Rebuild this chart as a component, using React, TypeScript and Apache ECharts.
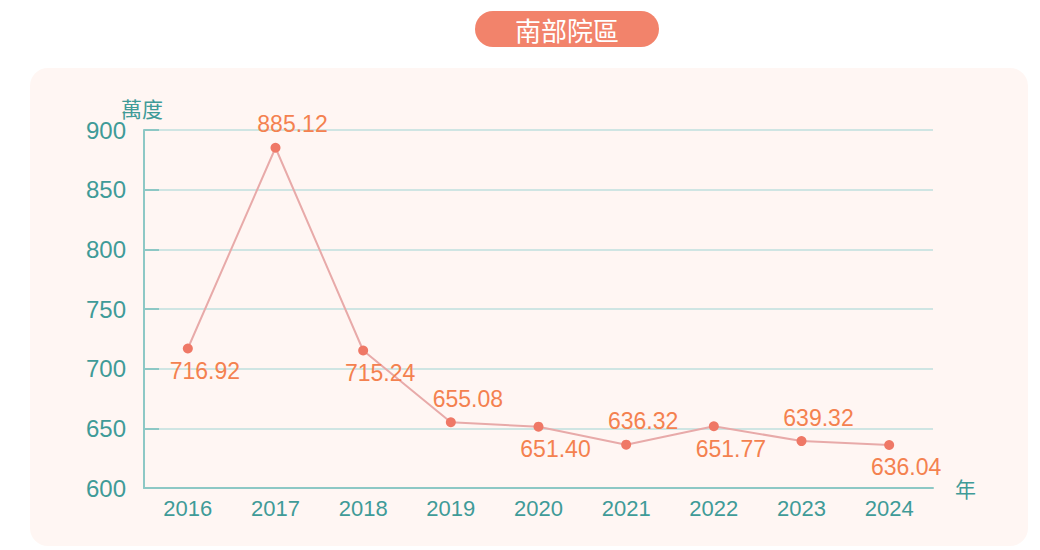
import React, { useEffect, useRef } from "react";
import * as echarts from "echarts";

const years = ["2016", "2017", "2018", "2019", "2020", "2021", "2022", "2023", "2024"];
const usage = [716.92, 885.12, 715.24, 655.08, 651.4, 636.32, 651.77, 639.32, 636.04];
const yTicks = [600, 650, 700, 750, 800, 850, 900];
const title = "南部院區";
const yName = "萬度";
const xName = "年";

const FONT = "'Liberation Sans', 'Noto Sans CJK TC', sans-serif";
const CJK = "'Noto Sans CJK TC', sans-serif";
const TEAL = "#3f9b98";
const AXIS = "#8dc8c5";
const GRIDC = "#cfe5e3";

export default function App() {
  const ref = useRef<HTMLDivElement>(null);
  useEffect(() => {
    document.body.style.margin = "0";
    const chart = echarts.init(ref.current!, null, { renderer: "svg" });
    chart.setOption({
      animation: false,
      backgroundColor: "#ffffff",
      textStyle: { fontFamily: FONT },
      graphic: [
        {
          type: "rect",
          z: -10,
          silent: true,
          shape: { x: 30, y: 68, width: 998, height: 478, r: 18 },
          style: { fill: "#fff6f3" },
        },
        {
          type: "rect",
          shape: { x: 475, y: 11, width: 184, height: 36, r: 18 },
          style: { fill: "#f2836b" },
        },
        {
          type: "text",
          x: 567,
          y: 29,
          style: {
            text: title,
            fill: "#ffffff",
            font: `26px ${CJK}`,
            align: "center",
            verticalAlign: "middle",
          },
        },
      ],
      grid: { left: 144, right: 107, top: 130, bottom: 62 },
      xAxis: {
        type: "category",
        data: years,
        boundaryGap: true,
        name: xName,
        nameLocation: "end",
        nameGap: 22,
        nameTextStyle: { color: TEAL, fontSize: 21, fontFamily: CJK, verticalAlign: "middle", padding: [0, 0, 4, 0] },
        axisLine: { lineStyle: { color: AXIS, width: 2 } },
        axisTick: { inside: true, length: 9, lineStyle: { color: AXIS, width: 2 } },
        axisLabel: { color: TEAL, fontSize: 22, margin: 9, fontFamily: FONT },
      },
      yAxis: {
        type: "value",
        min: 600,
        max: 900,
        interval: 50,
        name: yName,
        nameLocation: "end",
        nameGap: 12,
        nameTextStyle: { color: TEAL, fontSize: 21, fontFamily: CJK, align: "center", padding: [0, 4, 0, 0] },
        axisLine: { show: true, lineStyle: { color: AXIS, width: 2 } },
        axisTick: { show: true, inside: true, length: 15, lineStyle: { color: AXIS, width: 2 } },
        axisLabel: {
          color: TEAL,
          fontSize: 24,
          margin: 18,
          fontFamily: FONT,
          padding: [7, 0, 0, 0],
          formatter: (v: number) => (yTicks.includes(v) ? String(v) : ""),
        },
        splitLine: { lineStyle: { color: GRIDC, width: 2 } },
      },
      series: [
        {
          type: "line",
          data: usage.map((v, i) => ({
            value: v,
            label: {
              position: i % 2 === 0 ? "bottom" : "top",
              offset: [17, i % 2 === 0 ? -1 : 0],
            },
          })),
          symbol: "circle",
          symbolSize: 10,
          itemStyle: { color: "#ef7866" },
          lineStyle: { color: "#e8aaa9", width: 2 },
          label: {
            show: true,
            color: "#f4814f",
            fontSize: 23,
            fontFamily: FONT,
            distance: 7,
            formatter: (p: any) => Number(p.value).toFixed(2),
          },
        },
      ],
    });
    return () => chart.dispose();
  }, []);
  return <div ref={ref} style={{ width: 1040, height: 550 }} />;
}
